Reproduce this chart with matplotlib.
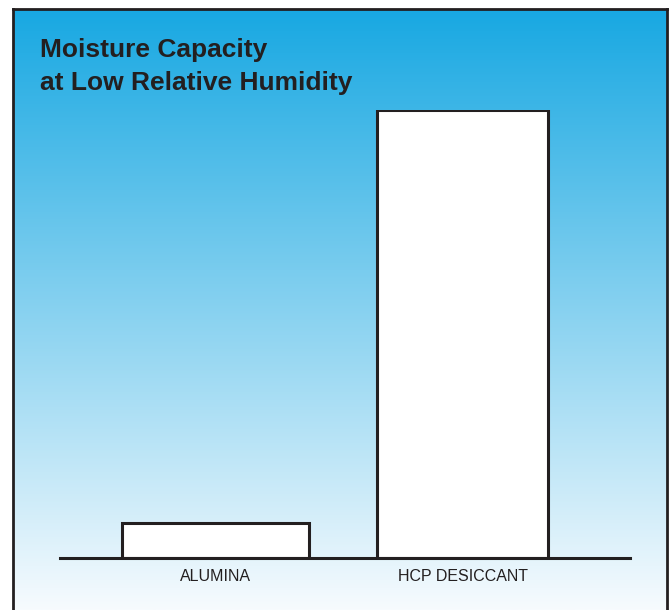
import numpy as np
import matplotlib
matplotlib.use("Agg")
import matplotlib.pyplot as plt
from matplotlib.lines import Line2D

categories = ["ALUMINA", "HCP DESICCANT"]
values = [1.0, 12.8]
title_lines = ["Moisture Capacity", "at Low Relative Humidity"]

W, H = 670, 610
fig = plt.figure(figsize=(W / 100, H / 100), dpi=100)
fig.patch.set_facecolor("white")

def fx(px):
    return px / W

def fy(py):
    return 1 - py / H

# gradient background panel
bg = fig.add_axes([fx(13), 0, fx(667) - fx(13), fy(9)])
top = np.array([24, 168, 226]) / 255
bot = np.array([247, 251, 254]) / 255
t = np.linspace(0, 1, 400)[:, None]
grad = top * (1 - t) + bot * t
bg.imshow(grad[:, None, :], aspect="auto", extent=[0, 1, 0, 1], origin="upper")
bg.set_axis_off()

dark = "#231f20"
# border: left, top, right
for xs, ys in [([fx(13), fx(13)], [0, fy(9)]),
               ([fx(13), fx(667)], [fy(9), fy(9)]),
               ([fx(667), fx(667)], [fy(9), 0])]:
    fig.add_artist(Line2D(xs, ys, color=dark, lw=2.0, transform=fig.transFigure,
                          solid_capstyle="projecting"))

# title
for i, line in enumerate(title_lines):
    fig.text(fx(40), fy(57 + 33 * i), line, fontsize=19, fontweight="bold",
             color=dark, family="Liberation Sans", ha="left", va="baseline")

# bar axes
x0, x1 = 60, 630
yb, yt = 558, 110
ax = fig.add_axes([fx(x0), fy(yb), fx(x1) - fx(x0), fy(yt) - fy(yb)])
ax.patch.set_alpha(0)
pos = np.arange(len(categories))
ax.bar(pos, values, width=[0.757, 0.692], color="white", edgecolor=dark,
       linewidth=2.2, zorder=3)
ax.set_xlim(-0.630, 1.678)
ax.set_ylim(0, max(values))
for s in ["top", "left", "right"]:
    ax.spines[s].set_visible(False)
ax.spines["bottom"].set_color(dark)
ax.spines["bottom"].set_linewidth(2.2)
ax.spines["bottom"].set_zorder(4)
ax.set_yticks([])
ax.set_xticks(pos)
ax.set_xticklabels(categories, fontsize=11.5, color=dark, family="Liberation Sans")
ax.tick_params(axis="x", length=0, pad=8)

fig.savefig("out.png", dpi=100)
